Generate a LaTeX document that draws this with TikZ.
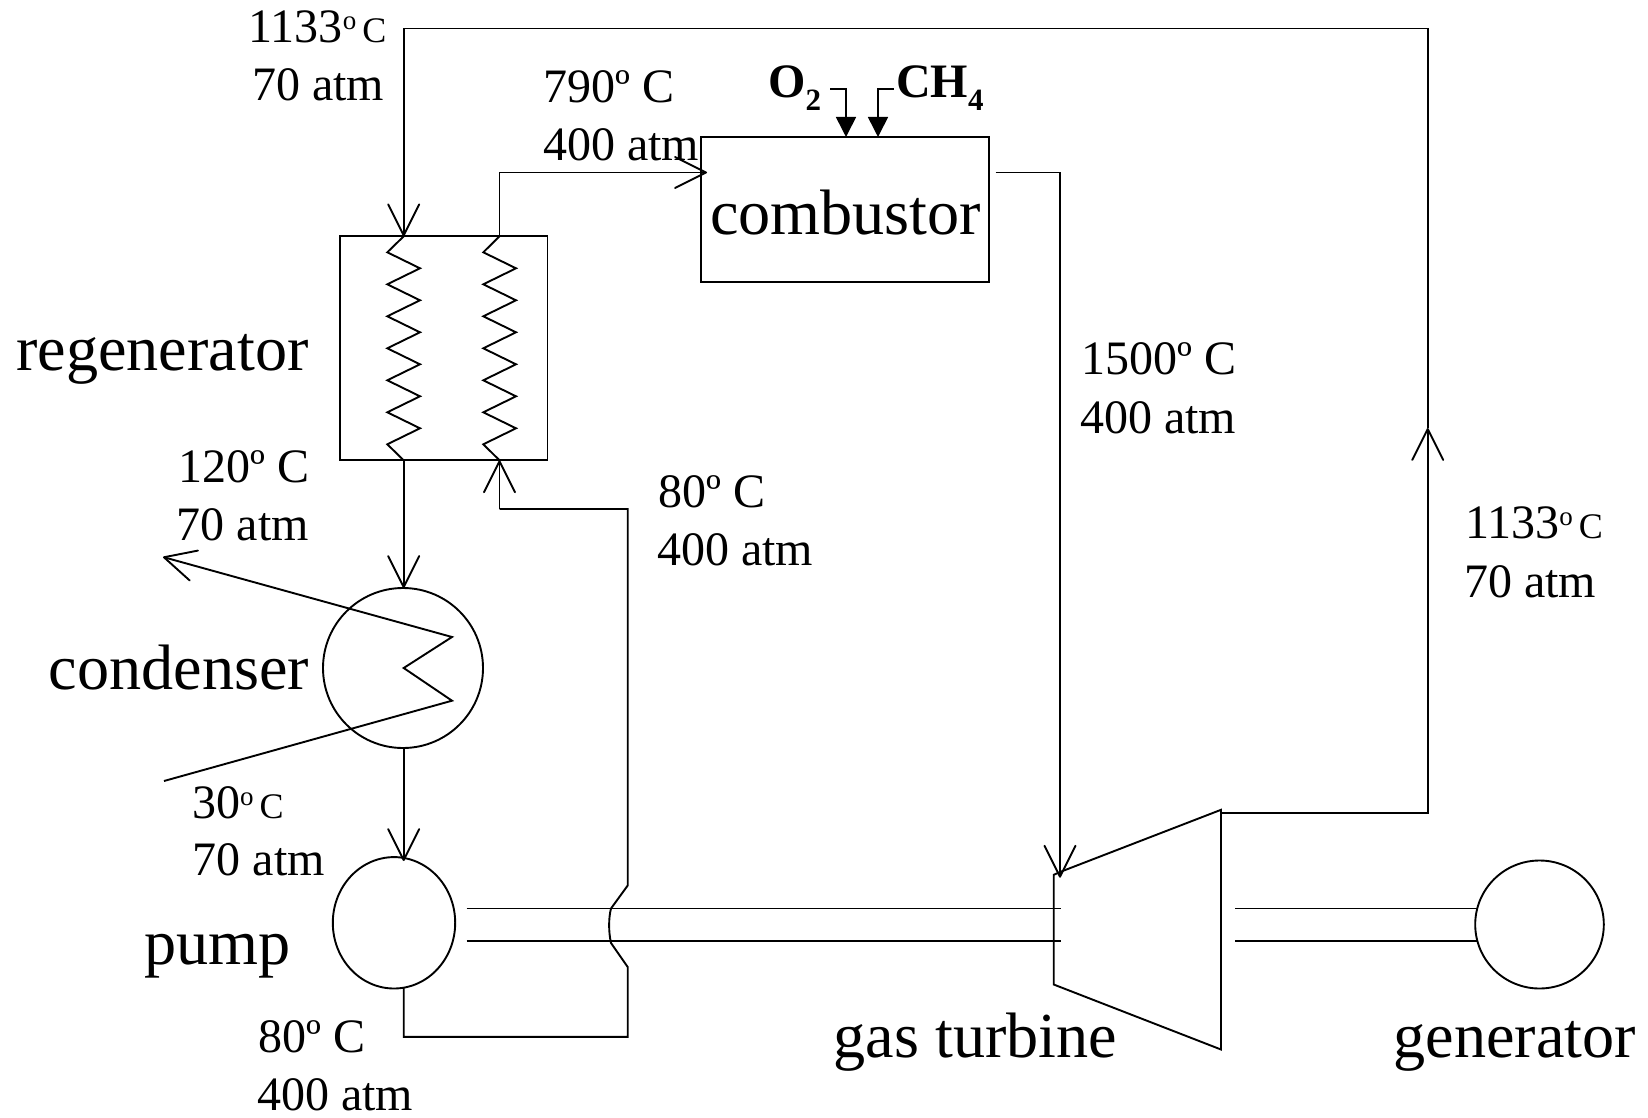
\documentclass[tikz,border=0pt]{standalone}
\usepackage{fontspec}
\setmainfont{Liberation Serif}
\usetikzlibrary{arrows.meta,shapes.geometric}
\newcommand{\sdeg}{\raisebox{13pt}{\fontsize{27}{27}\selectfont o}}
\newcommand{\sC}{{\fontsize{36}{36}\selectfont\,C}}
\newcommand{\subnum}[1]{\raisebox{-13pt}{\fontsize{31}{31}\selectfont #1}}
\tikzset{
  ln/.style={line width=1.9pt,line join=miter,draw=black},
  openhead/.style={-{Straight Barb[length=31pt,width=31pt,line width=1.9pt,round]}},
  solidhead/.style={-{Triangle[length=20pt,width=20pt]}},
  vessel/.style={ln,ellipse,inner sep=0pt},
  box/.style={ln,rectangle,inner sep=0pt},
  lab/.style={anchor=base west,inner sep=0pt,font=\fontsize{48}{50}\selectfont},
  biglab/.style={anchor=base west,inner sep=0pt,font=\fontsize{64.2}{66}\selectfont},
  boldlab/.style={anchor=base west,inner sep=0pt,font=\fontsize{48}{50}\selectfont\bfseries},
}
\begin{document}
\begin{tikzpicture}[x=1pt,y=-1pt]
\useasboundingbox (0,0) rectangle (1648,1118);
% equipment
\node[box,minimum width=207.5pt,minimum height=224pt] (regen) at (443.7,348.3) {};
\node[box,minimum width=288pt,minimum height=144.7pt] (comb) at (845,209.3) {};
\node[vessel,minimum width=160pt,minimum height=160pt] (cond) at (403,668) {};
\node[vessel,minimum width=122.4pt,minimum height=131.4pt] (pump) at (394,922.8) {};
\node[vessel,minimum width=128.6pt,minimum height=128pt] (gen) at (1539.5,924.5) {};
\coordinate (tTL) at (1053.7,874.8);
\coordinate (tTR) at (1221,809.8);
\coordinate (tBR) at (1221,1049.5);
\coordinate (tBL) at (1053.7,984.5);
\coordinate (tIn) at (1060,877.7);
\coordinate (tInTop) at (1060,872);
\coordinate (tOut) at (1221,812.8);
\draw[ln] (tTL) -- (tInTop) -- (tTR) -- (tBR) -- (tBL) -- cycle;
% regenerator coils
\coordinate (hotIn) at (403.7,236.3);
\coordinate (hotOut) at (403.7,460.3);
\coordinate (coldIn) at (499.5,460.3);
\coordinate (coldOut) at (499.5,236.3);
\draw[ln] (hotIn) -- (387.3,252.3) -- (420,268.3) -- (387.3,284.3) -- (420,300.3) -- (387.3,316.3) -- (420,332.3) -- (387.3,348.3) -- (420,364.3) -- (387.3,380.3) -- (420,396.3) -- (387.3,412.3) -- (420,428.3) -- (387.3,444.3) -- (hotOut);
\draw[ln] (coldOut) -- (483.3,252.3) -- (516,268.3) -- (483.3,284.3) -- (516,300.3) -- (483.3,316.3) -- (516,332.3) -- (483.3,348.3) -- (516,364.3) -- (483.3,380.3) -- (516,396.3) -- (483.3,412.3) -- (516,428.3) -- (483.3,444.3) -- (coldIn);
% condenser coil
\coordinate (cwOut) at (163,557);
\coordinate (cwIn) at (164,781);
\draw[ln,openhead] (cwIn) -- (452,700.7) -- (403.7,668) -- (452,637) -- (cwOut);
% main loop
\coordinate (topL) at (403.7,28.5);
\coordinate (topR) at (1427.7,28.5);
\coordinate (upTip) at (1427.7,428);
\coordinate (corner) at (1427.7,812.8);
\draw[ln,openhead] (tOut) -- (corner) -- (upTip);
\draw[ln] (upTip) -- (topR) -- (topL) -- (403.7,120);
\draw[ln,openhead] (403.7,120) -- (hotIn);
\coordinate (combIn) at (707,172.5);
\draw[ln,openhead] (coldOut) |- (combIn);
\coordinate (combOut) at (995.5,172.5);
\draw[ln,openhead] (combOut) -- (1060,172.5) -- (tIn);
\coordinate (condIn) at (403.7,588);
\coordinate (condOut) at (403.7,747.7);
\coordinate (pumpIn) at (403.7,861);
\coordinate (pumpOut) at (403.7,988);
\draw[ln,openhead] (hotOut) -- (condIn);
\draw[ln,openhead] (condOut) -- (pumpIn);
\coordinate (retA) at (627.7,1036.8);
\coordinate (retB) at (627.7,967);
\coordinate (retC) at (627.7,885.5);
\coordinate (retD) at (627.7,509);
\draw[ln] (pumpOut) |- (retA) -- (retB) -- (611,943) .. controls (608.5,932) and (608.5,918) .. (611,908.5) -- (retC) -- (retD) -- (499.5,509);
\draw[ln,openhead] (499.5,509) -- (coldIn);
% shafts
\coordinate (sA1) at (466.7,908.5); \coordinate (sA2) at (466.7,940.8);
\coordinate (sB1) at (1060.7,908.5); \coordinate (sB2) at (1060.7,940.8);
\coordinate (sC1) at (1235,908.5); \coordinate (sC2) at (1235,940.8);
\coordinate (sD1) at (1477,908.5); \coordinate (sD2) at (1477,940.8);
\draw[ln] (sA1) -- (sB1);
\draw[ln] (sA2) -- (sB2);
\draw[ln] (sC1) -- (sD1);
\draw[ln] (sC2) -- (sD2);
% feeds
\coordinate (oS) at (830,89);
\coordinate (oE) at (846,137);
\coordinate (cS) at (893.5,89);
\coordinate (cE) at (878,137);
\draw[line width=1.6pt,solidhead] (oS) -| (oE);
\draw[line width=1.6pt,solidhead] (cS) -| (cE);
% labels
\node[lab] (t1a) at (248.5,42.5) {1133\sdeg\sC};
\node[lab] (t1b) at (252,100.5) {70 atm};
\node[lab] (t2a) at (543,102.7) {790º C};
\node[lab] (t2b) at (543,160.7) {400 atm};
\node[boldlab] (o2) at (768,98) {O\subnum{2}};
\node[boldlab] (ch4) at (896,98) {CH\subnum{4}};
\node[biglab] (tcomb) at (710,234) {combustor};
\node[biglab] (tregen) at (16,370) {regenerator};
\node[biglab] (tcond) at (48.5,689) {condenser};
\node[biglab] (tpump) at (144,964) {pump};
\node[biglab] (tturb) at (833.5,1057) {gas turbine};
\node[biglab] (tgen) at (1393.5,1057) {generator};
\node[lab] (t3a) at (178.5,482.5) {120º C};
\node[lab] (t3b) at (176.5,540) {70 atm};
\node[lab] (t4a) at (658,507.6) {80º C};
\node[lab] (t4b) at (657,565) {400 atm};
\node[lab] (t5a) at (1081.5,374) {1500º C};
\node[lab] (t5b) at (1080,433.5) {400 atm};
\node[lab] (t6a) at (1465,538.3) {1133\sdeg\sC};
\node[lab] (t6b) at (1464,597.5) {70 atm};
\node[lab] (t7a) at (192,818) {30\sdeg\sC};
\node[lab] (t7b) at (192.5,875.5) {70 atm};
\node[lab] (t8a) at (258.5,1052) {80º C};
\node[lab] (t8b) at (257,1110) {400 atm};
\end{tikzpicture}
\end{document}
